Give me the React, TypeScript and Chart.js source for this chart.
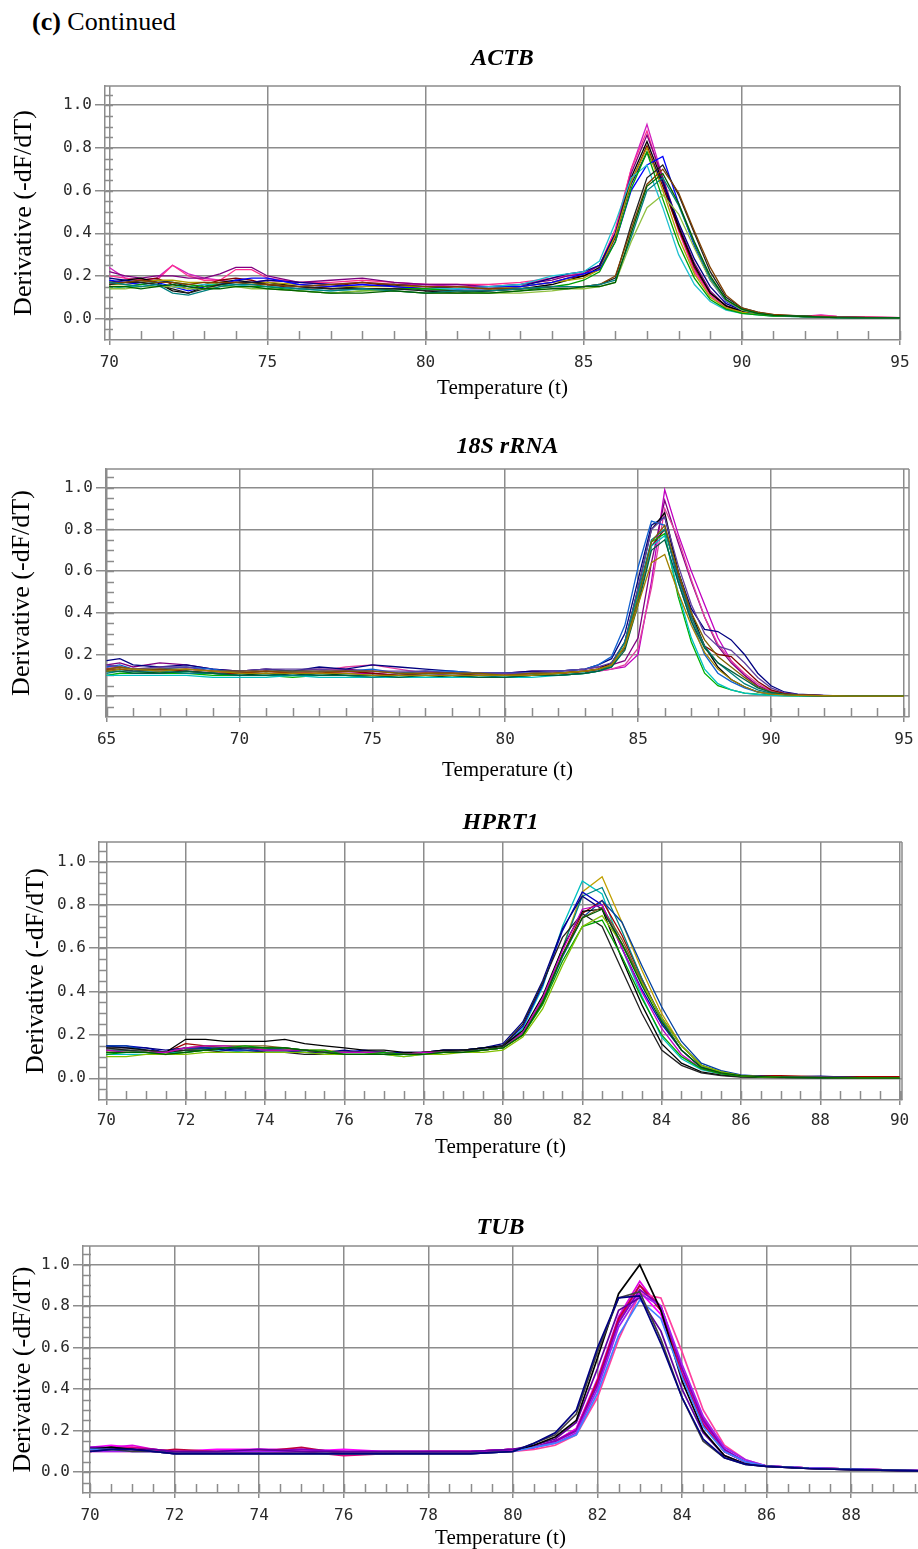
import React, { useEffect, useRef } from 'react';
import { Chart, registerables } from 'chart.js';

Chart.register(...registerables);

// ---------------- data ----------------
const Y_TICKS = [0, 0.2, 0.4, 0.6, 0.8, 1.0];
const ACTB_X_TICKS = [70, 75, 80, 85, 90, 95];
const RRNA_X_TICKS = [65, 70, 75, 80, 85, 90, 95];
const HPRT1_X_TICKS = [70, 72, 74, 76, 78, 80, 82, 84, 86, 88, 90];
const TUB_X_TICKS = [70, 72, 74, 76, 78, 80, 82, 84, 86, 88];

// ACTB
const ACTB_TEMPS = [70, 70.5, 71, 71.5, 72, 72.5, 73, 73.5, 74, 74.5, 75, 76, 77, 78, 79, 80, 81, 82, 83, 84, 84.5, 85, 85.5, 86, 86.5, 87, 87.5, 88, 88.5, 89, 89.5, 90, 90.5, 91, 92, 92.5, 93, 95];
const ACTB_S1 = [0.24,0.19,0.18,0.19,0.25,0.21,0.19,0.18,0.17,0.17,0.18,0.17,0.16,0.17,0.16,0.16,0.15,0.15,0.16,0.19,0.21,0.21,0.25,0.40,0.70,0.91,0.66,0.42,0.23,0.11,0.05,0.03,0.02,0.014,0.012,0.018,0.01,0.005];
const ACTB_S2 = [0.22,0.2,0.19,0.2,0.2,0.19,0.19,0.21,0.24,0.24,0.2,0.17,0.18,0.19,0.17,0.16,0.16,0.15,0.16,0.18,0.2,0.21,0.25,0.40,0.68,0.86,0.66,0.44,0.26,0.13,0.06,0.035,0.02,0.015,0.01,0.008,0.006,0.004];
const ACTB_S3 = [0.17,0.18,0.19,0.17,0.13,0.12,0.15,0.17,0.18,0.17,0.17,0.15,0.14,0.15,0.16,0.13,0.12,0.13,0.14,0.16,0.18,0.2,0.24,0.39,0.66,0.83,0.64,0.43,0.25,0.12,0.06,0.035,0.022,0.015,0.01,0.008,0.006,0.004];
const ACTB_S4 = [0.16,0.17,0.18,0.19,0.16,0.14,0.16,0.18,0.19,0.18,0.16,0.14,0.15,0.17,0.15,0.14,0.15,0.14,0.15,0.17,0.19,0.2,0.23,0.38,0.64,0.81,0.62,0.42,0.24,0.12,0.06,0.03,0.02,0.015,0.01,0.008,0.006,0.004];
const ACTB_S5 = [0.15,0.15,0.16,0.17,0.17,0.16,0.15,0.16,0.15,0.15,0.15,0.13,0.12,0.13,0.14,0.14,0.13,0.12,0.13,0.15,0.16,0.18,0.22,0.36,0.61,0.78,0.56,0.35,0.19,0.09,0.045,0.025,0.018,0.012,0.01,0.007,0.005,0.004];
const ACTB_S6 = [0.14,0.15,0.15,0.16,0.15,0.15,0.16,0.16,0.16,0.15,0.15,0.14,0.13,0.14,0.14,0.14,0.14,0.15,0.16,0.2,0.21,0.22,0.27,0.45,0.66,0.72,0.52,0.3,0.16,0.08,0.04,0.025,0.018,0.012,0.008,0.006,0.005,0.004];
const ACTB_S7 = [0.18,0.17,0.16,0.17,0.15,0.13,0.15,0.16,0.18,0.19,0.19,0.16,0.15,0.16,0.15,0.14,0.14,0.15,0.15,0.17,0.19,0.21,0.23,0.36,0.6,0.72,0.76,0.54,0.34,0.18,0.08,0.04,0.025,0.015,0.01,0.008,0.006,0.004];
const ACTB_S8 = [0.16,0.16,0.17,0.18,0.18,0.17,0.17,0.16,0.16,0.16,0.17,0.16,0.15,0.15,0.15,0.15,0.15,0.14,0.15,0.17,0.18,0.19,0.23,0.39,0.64,0.8,0.6,0.38,0.21,0.1,0.05,0.03,0.02,0.012,0.01,0.008,0.006,0.004];
const ACTB_S9 = [0.19,0.18,0.17,0.18,0.17,0.15,0.14,0.16,0.17,0.17,0.18,0.17,0.16,0.15,0.16,0.15,0.14,0.14,0.15,0.19,0.21,0.22,0.25,0.4,0.63,0.78,0.64,0.45,0.28,0.15,0.07,0.04,0.022,0.015,0.01,0.008,0.006,0.004];
const ACTB_S10 = [0.15,0.15,0.14,0.15,0.16,0.15,0.14,0.14,0.15,0.15,0.14,0.13,0.12,0.12,0.13,0.12,0.12,0.12,0.13,0.14,0.14,0.15,0.15,0.17,0.4,0.62,0.68,0.54,0.36,0.2,0.09,0.045,0.025,0.015,0.01,0.007,0.005,0.004];
const ACTB_S11 = [0.17,0.16,0.15,0.16,0.12,0.11,0.13,0.15,0.16,0.16,0.15,0.14,0.13,0.14,0.13,0.12,0.13,0.13,0.14,0.15,0.15,0.15,0.16,0.18,0.38,0.6,0.66,0.53,0.35,0.19,0.09,0.045,0.025,0.015,0.01,0.007,0.005,0.004];
const ACTB_S12 = [0.17,0.17,0.18,0.17,0.17,0.16,0.17,0.17,0.17,0.16,0.16,0.15,0.16,0.17,0.16,0.15,0.15,0.14,0.14,0.15,0.15,0.15,0.16,0.2,0.42,0.63,0.7,0.59,0.41,0.24,0.11,0.05,0.03,0.02,0.012,0.01,0.007,0.005];
const ACTB_S13 = [0.14,0.14,0.15,0.15,0.15,0.14,0.14,0.15,0.15,0.14,0.14,0.13,0.12,0.13,0.13,0.12,0.12,0.12,0.12,0.13,0.14,0.14,0.15,0.17,0.36,0.52,0.58,0.49,0.33,0.18,0.085,0.04,0.025,0.015,0.01,0.008,0.006,0.004];
const ACTB_S14 = [0.2,0.19,0.18,0.18,0.25,0.2,0.18,0.18,0.23,0.23,0.19,0.17,0.17,0.18,0.17,0.16,0.16,0.16,0.17,0.19,0.2,0.21,0.25,0.42,0.7,0.88,0.64,0.41,0.22,0.11,0.05,0.03,0.02,0.015,0.012,0.015,0.01,0.005];
const ACTB_S15 = [0.16,0.17,0.17,0.16,0.14,0.12,0.14,0.16,0.17,0.17,0.16,0.15,0.14,0.14,0.14,0.13,0.13,0.13,0.14,0.15,0.15,0.15,0.16,0.19,0.44,0.66,0.72,0.58,0.4,0.22,0.1,0.05,0.03,0.018,0.012,0.008,0.006,0.004];
const ACTB_SERIES = [ACTB_S10, ACTB_S11, ACTB_S12, ACTB_S13, ACTB_S15, ACTB_S5, ACTB_S6, ACTB_S7, ACTB_S8, ACTB_S9, ACTB_S3, ACTB_S4, ACTB_S2, ACTB_S14, ACTB_S1];
const ACTB_COLORS = ['#006000', '#008080', '#804000', '#90c040', '#202020', '#00a000', '#20c0d0', '#0000ff', '#b0a000', '#000080', '#000000', '#800000', '#800080', '#ff3090', '#d020c0'];

// 18S rRNA
const RRNA_TEMPS = [65, 65.5, 66, 67, 68, 69, 70, 71, 72, 73, 74, 75, 76, 77, 78, 79, 80, 81, 82, 83, 83.5, 84, 84.5, 85, 85.5, 86, 86.5, 87, 87.5, 88, 88.5, 89, 89.5, 90, 90.5, 91, 92, 93, 95];
const RRNA_S1 = [0.13,0.14,0.13,0.12,0.13,0.12,0.11,0.12,0.11,0.12,0.11,0.11,0.1,0.11,0.1,0.1,0.1,0.11,0.11,0.12,0.12,0.13,0.14,0.2,0.55,0.99,0.78,0.6,0.44,0.28,0.17,0.1,0.05,0.025,0.012,0.006,0.002,0,0];
const RRNA_S2 = [0.15,0.16,0.14,0.16,0.15,0.13,0.12,0.13,0.12,0.13,0.13,0.12,0.11,0.12,0.11,0.11,0.11,0.12,0.12,0.13,0.14,0.15,0.17,0.28,0.64,0.94,0.74,0.55,0.38,0.24,0.16,0.1,0.05,0.025,0.012,0.006,0.002,0,0];
const RRNA_S3 = [0.12,0.13,0.12,0.11,0.12,0.11,0.1,0.11,0.1,0.11,0.1,0.1,0.1,0.1,0.09,0.1,0.1,0.1,0.11,0.12,0.13,0.16,0.26,0.52,0.8,0.88,0.6,0.4,0.24,0.14,0.08,0.045,0.02,0.01,0.006,0.004,0.002,0,0];
const RRNA_S4 = [0.17,0.18,0.15,0.14,0.15,0.13,0.12,0.13,0.12,0.14,0.13,0.15,0.14,0.13,0.12,0.11,0.11,0.12,0.12,0.13,0.15,0.18,0.3,0.56,0.82,0.86,0.6,0.42,0.32,0.31,0.27,0.2,0.11,0.05,0.02,0.01,0.004,0,0];
const RRNA_S5 = [0.14,0.15,0.13,0.13,0.14,0.13,0.11,0.12,0.12,0.12,0.12,0.13,0.11,0.12,0.12,0.11,0.11,0.11,0.12,0.13,0.15,0.19,0.34,0.62,0.84,0.82,0.55,0.36,0.2,0.11,0.07,0.04,0.02,0.01,0.006,0.004,0.002,0,0];
const RRNA_S6 = [0.11,0.12,0.12,0.12,0.11,0.11,0.1,0.1,0.1,0.1,0.1,0.09,0.1,0.1,0.1,0.1,0.09,0.1,0.1,0.11,0.12,0.15,0.26,0.5,0.75,0.8,0.57,0.38,0.24,0.16,0.11,0.06,0.03,0.014,0.007,0.004,0.002,0,0];
const RRNA_S7 = [0.1,0.11,0.11,0.11,0.11,0.1,0.1,0.1,0.09,0.1,0.1,0.09,0.09,0.09,0.09,0.09,0.09,0.1,0.1,0.11,0.12,0.14,0.24,0.48,0.74,0.78,0.48,0.26,0.11,0.05,0.03,0.015,0.01,0.005,0.003,0.002,0.001,0,0];
const RRNA_S8 = [0.12,0.13,0.13,0.12,0.13,0.12,0.11,0.11,0.11,0.11,0.11,0.1,0.1,0.1,0.1,0.1,0.1,0.1,0.11,0.12,0.13,0.15,0.24,0.44,0.64,0.68,0.5,0.34,0.21,0.13,0.08,0.045,0.02,0.01,0.006,0.004,0.002,0,0];
const RRNA_S9 = [0.13,0.13,0.12,0.13,0.12,0.11,0.11,0.12,0.11,0.11,0.12,0.11,0.1,0.11,0.11,0.1,0.1,0.1,0.11,0.12,0.13,0.15,0.23,0.46,0.72,0.8,0.58,0.38,0.24,0.2,0.19,0.13,0.07,0.03,0.012,0.006,0.002,0,0];
const RRNA_S10 = [0.12,0.12,0.11,0.11,0.12,0.11,0.1,0.1,0.11,0.1,0.1,0.1,0.09,0.1,0.1,0.09,0.09,0.1,0.1,0.11,0.12,0.14,0.22,0.44,0.7,0.75,0.55,0.36,0.23,0.16,0.12,0.08,0.04,0.018,0.008,0.004,0.002,0,0];
const RRNA_S11 = [0.14,0.14,0.13,0.12,0.13,0.12,0.11,0.12,0.11,0.12,0.14,0.15,0.13,0.11,0.11,0.1,0.1,0.11,0.11,0.12,0.12,0.13,0.15,0.23,0.52,0.9,0.76,0.56,0.38,0.25,0.17,0.11,0.06,0.025,0.01,0.005,0.002,0,0];
const RRNA_S12 = [0.1,0.1,0.1,0.1,0.1,0.09,0.09,0.09,0.1,0.09,0.09,0.09,0.09,0.09,0.09,0.09,0.09,0.09,0.1,0.11,0.12,0.14,0.24,0.47,0.72,0.77,0.5,0.28,0.13,0.06,0.03,0.015,0.008,0.004,0.002,0.001,0,0,0];
const RRNA_S13 = [0.13,0.14,0.13,0.13,0.13,0.12,0.12,0.12,0.12,0.12,0.12,0.12,0.11,0.11,0.11,0.11,0.1,0.11,0.11,0.12,0.13,0.15,0.24,0.47,0.74,0.82,0.6,0.4,0.27,0.19,0.14,0.09,0.045,0.02,0.01,0.005,0.002,0,0];
const RRNA_S14 = [0.15,0.14,0.13,0.14,0.14,0.12,0.12,0.13,0.13,0.13,0.12,0.12,0.12,0.12,0.11,0.11,0.11,0.11,0.12,0.13,0.14,0.16,0.26,0.52,0.8,0.86,0.63,0.44,0.3,0.24,0.22,0.16,0.09,0.04,0.016,0.008,0.003,0,0];
const RRNA_SERIES = [RRNA_S8, RRNA_S10, RRNA_S13, RRNA_S6, RRNA_S12, RRNA_S7, RRNA_S9, RRNA_S14, RRNA_S5, RRNA_S3, RRNA_S4, RRNA_S11, RRNA_S2, RRNA_S1];
const RRNA_COLORS = ['#a08000', '#006040', '#806000', '#008080', '#00c0c0', '#00b000', '#800000', '#6040a0', '#1060d0', '#000000', '#000080', '#e040a0', '#800080', '#c000c0'];

// HPRT1
const HPRT1_TEMPS = [70, 70.5, 71, 71.5, 72, 72.5, 73, 73.5, 74, 74.5, 75, 75.5, 76, 76.5, 77, 77.5, 78, 78.5, 79, 79.5, 80, 80.5, 81, 81.5, 82, 82.5, 83, 83.5, 84, 84.5, 85, 85.5, 86, 86.5, 87, 88, 89, 90];
const HPRT1_S1 = [0.12,0.12,0.12,0.11,0.13,0.14,0.14,0.14,0.14,0.13,0.13,0.13,0.12,0.12,0.12,0.11,0.12,0.12,0.12,0.13,0.14,0.2,0.36,0.6,0.86,0.93,0.72,0.5,0.3,0.15,0.06,0.025,0.012,0.008,0.005,0.004,0.003,0.003];
const HPRT1_S2 = [0.11,0.11,0.11,0.12,0.12,0.13,0.13,0.12,0.12,0.12,0.12,0.11,0.11,0.11,0.11,0.1,0.11,0.12,0.12,0.13,0.14,0.23,0.42,0.7,0.91,0.85,0.6,0.38,0.19,0.09,0.04,0.02,0.01,0.006,0.004,0.003,0.002,0.002];
const HPRT1_S3 = [0.15,0.15,0.14,0.12,0.14,0.14,0.13,0.13,0.12,0.12,0.13,0.12,0.12,0.13,0.12,0.12,0.12,0.13,0.13,0.14,0.15,0.24,0.43,0.68,0.86,0.8,0.6,0.41,0.25,0.13,0.05,0.025,0.012,0.008,0.005,0.004,0.003,0.003];
const HPRT1_S4 = [0.14,0.14,0.13,0.12,0.18,0.18,0.17,0.17,0.17,0.18,0.16,0.15,0.14,0.13,0.13,0.12,0.12,0.13,0.13,0.14,0.15,0.22,0.38,0.6,0.77,0.78,0.55,0.34,0.16,0.07,0.03,0.015,0.008,0.005,0.004,0.003,0.002,0.002];
const HPRT1_S5 = [0.13,0.13,0.12,0.12,0.16,0.15,0.14,0.14,0.13,0.13,0.13,0.12,0.12,0.12,0.12,0.11,0.12,0.12,0.13,0.14,0.15,0.21,0.35,0.57,0.76,0.82,0.66,0.46,0.27,0.13,0.05,0.025,0.014,0.012,0.012,0.008,0.008,0.008];
const HPRT1_S6 = [0.11,0.12,0.12,0.11,0.12,0.13,0.14,0.15,0.14,0.14,0.13,0.13,0.11,0.11,0.12,0.11,0.11,0.12,0.12,0.13,0.14,0.2,0.34,0.54,0.7,0.73,0.56,0.37,0.2,0.1,0.045,0.02,0.01,0.006,0.004,0.003,0.002,0.002];
const HPRT1_S7 = [0.15,0.14,0.14,0.13,0.14,0.14,0.13,0.14,0.12,0.12,0.12,0.12,0.13,0.12,0.12,0.11,0.12,0.13,0.13,0.14,0.16,0.26,0.45,0.69,0.84,0.78,0.62,0.45,0.28,0.15,0.06,0.03,0.012,0.008,0.005,0.01,0.003,0.003];
const HPRT1_S8 = [0.13,0.13,0.12,0.12,0.13,0.13,0.14,0.14,0.14,0.13,0.12,0.12,0.12,0.12,0.11,0.11,0.12,0.12,0.13,0.13,0.14,0.21,0.36,0.6,0.84,0.88,0.68,0.46,0.27,0.13,0.05,0.025,0.012,0.008,0.005,0.004,0.003,0.003];
const HPRT1_S9 = [0.14,0.13,0.13,0.12,0.13,0.13,0.12,0.12,0.12,0.12,0.11,0.11,0.12,0.12,0.12,0.11,0.12,0.12,0.13,0.13,0.15,0.25,0.44,0.65,0.76,0.7,0.5,0.3,0.13,0.06,0.025,0.012,0.006,0.004,0.003,0.002,0.002,0.002];
const HPRT1_S10 = [0.12,0.12,0.12,0.12,0.14,0.15,0.15,0.15,0.15,0.14,0.13,0.12,0.12,0.12,0.12,0.11,0.12,0.12,0.12,0.13,0.14,0.21,0.36,0.57,0.74,0.79,0.64,0.45,0.28,0.15,0.06,0.03,0.012,0.008,0.005,0.004,0.003,0.003];
const HPRT1_S11 = [0.1,0.1,0.11,0.11,0.11,0.12,0.12,0.12,0.12,0.12,0.12,0.11,0.11,0.11,0.11,0.1,0.11,0.11,0.12,0.12,0.13,0.19,0.32,0.52,0.7,0.75,0.62,0.44,0.28,0.15,0.06,0.03,0.012,0.008,0.005,0.004,0.003,0.003];
const HPRT1_S12 = [0.13,0.12,0.12,0.12,0.14,0.15,0.15,0.14,0.13,0.13,0.13,0.12,0.12,0.12,0.12,0.11,0.12,0.12,0.12,0.13,0.14,0.21,0.37,0.59,0.78,0.8,0.6,0.4,0.23,0.11,0.045,0.022,0.012,0.008,0.005,0.004,0.003,0.003];
const HPRT1_S13 = [0.15,0.15,0.13,0.12,0.14,0.14,0.14,0.13,0.13,0.14,0.13,0.12,0.12,0.12,0.12,0.11,0.12,0.12,0.13,0.14,0.15,0.21,0.35,0.56,0.74,0.82,0.72,0.52,0.33,0.17,0.07,0.035,0.016,0.01,0.006,0.004,0.003,0.003];
const HPRT1_S14 = [0.12,0.12,0.12,0.11,0.12,0.13,0.14,0.14,0.14,0.14,0.13,0.12,0.11,0.11,0.11,0.11,0.11,0.12,0.12,0.13,0.14,0.2,0.35,0.57,0.74,0.78,0.62,0.43,0.26,0.13,0.05,0.025,0.012,0.008,0.005,0.003,0.002,0.002];
const HPRT1_SERIES = [HPRT1_S14, HPRT1_S11, HPRT1_S6, HPRT1_S12, HPRT1_S10, HPRT1_S9, HPRT1_S4, HPRT1_S13, HPRT1_S7, HPRT1_S3, HPRT1_S8, HPRT1_S5, HPRT1_S2, HPRT1_S1];
const HPRT1_COLORS = ['#006000', '#80c000', '#00a000', '#c000c0', '#806020', '#202020', '#000000', '#0040a0', '#000080', '#0000c0', '#008080', '#a00000', '#00c0c0', '#c0a000'];

// TUB
const TUB_TEMPS = [70, 70.5, 71, 71.5, 72, 73, 74, 75, 76, 77, 78, 79, 80, 80.5, 81, 81.5, 82, 82.5, 83, 83.5, 84, 84.5, 85, 85.5, 86, 87, 88, 89, 90];
const TUB_S1 = [0.11,0.12,0.11,0.1,0.09,0.09,0.09,0.09,0.09,0.09,0.09,0.09,0.1,0.13,0.17,0.25,0.55,0.86,1.0,0.78,0.44,0.2,0.08,0.04,0.028,0.018,0.013,0.009,0.005];
const TUB_S2 = [0.1,0.11,0.11,0.1,0.09,0.09,0.09,0.09,0.09,0.09,0.09,0.09,0.1,0.14,0.19,0.3,0.6,0.84,0.85,0.62,0.36,0.16,0.07,0.038,0.028,0.018,0.013,0.009,0.005];
const TUB_S3 = [0.11,0.12,0.13,0.11,0.1,0.1,0.11,0.11,0.1,0.1,0.1,0.1,0.11,0.12,0.15,0.21,0.45,0.75,0.92,0.78,0.48,0.24,0.1,0.05,0.03,0.02,0.015,0.01,0.006];
const TUB_S4 = [0.11,0.11,0.11,0.1,0.1,0.1,0.1,0.11,0.1,0.1,0.1,0.1,0.11,0.12,0.15,0.2,0.42,0.72,0.88,0.8,0.5,0.25,0.11,0.05,0.03,0.02,0.015,0.01,0.006];
const TUB_S5 = [0.1,0.11,0.12,0.11,0.1,0.1,0.1,0.1,0.08,0.09,0.1,0.1,0.11,0.12,0.15,0.2,0.43,0.73,0.9,0.8,0.5,0.26,0.11,0.05,0.03,0.02,0.015,0.01,0.006];
const TUB_S6 = [0.1,0.1,0.1,0.1,0.09,0.1,0.1,0.1,0.1,0.1,0.1,0.1,0.11,0.12,0.14,0.19,0.4,0.7,0.86,0.8,0.52,0.27,0.12,0.06,0.03,0.02,0.015,0.01,0.006];
const TUB_S7 = [0.11,0.12,0.11,0.1,0.11,0.1,0.1,0.12,0.09,0.1,0.1,0.1,0.11,0.12,0.15,0.2,0.44,0.74,0.9,0.78,0.47,0.23,0.1,0.05,0.03,0.02,0.015,0.01,0.006];
const TUB_S8 = [0.11,0.11,0.1,0.1,0.09,0.09,0.09,0.09,0.09,0.09,0.09,0.09,0.1,0.12,0.14,0.18,0.38,0.66,0.83,0.74,0.46,0.22,0.1,0.05,0.03,0.02,0.015,0.01,0.006];
const TUB_S9 = [0.12,0.13,0.12,0.11,0.1,0.11,0.11,0.1,0.11,0.1,0.1,0.1,0.11,0.12,0.15,0.21,0.44,0.74,0.87,0.76,0.47,0.24,0.1,0.05,0.03,0.02,0.015,0.01,0.006];
const TUB_S10 = [0.12,0.12,0.11,0.11,0.1,0.1,0.11,0.1,0.1,0.1,0.1,0.1,0.11,0.13,0.16,0.24,0.5,0.78,0.84,0.68,0.4,0.19,0.08,0.04,0.028,0.018,0.013,0.009,0.005];
const TUB_S11 = [0.1,0.1,0.1,0.1,0.1,0.1,0.09,0.1,0.1,0.09,0.1,0.1,0.1,0.11,0.13,0.18,0.36,0.64,0.86,0.84,0.58,0.3,0.13,0.06,0.03,0.02,0.015,0.01,0.006];
const TUB_S12 = [0.1,0.11,0.1,0.1,0.09,0.09,0.09,0.09,0.09,0.09,0.09,0.09,0.1,0.14,0.18,0.28,0.58,0.84,0.87,0.64,0.36,0.15,0.07,0.038,0.028,0.018,0.013,0.009,0.005];
const TUB_SERIES = [TUB_S2, TUB_S12, TUB_S8, TUB_S1, TUB_S10, TUB_S6, TUB_S4, TUB_S11, TUB_S7, TUB_S5, TUB_S3, TUB_S9];
const TUB_COLORS = ['#000080', '#404040', '#4080ff', '#000000', '#6000a0', '#a020f0', '#8000c0', '#ff40a0', '#c00040', '#e00080', '#e000e0', '#ff00ff'];

// ---------------- styling / layout ----------------
const W = 918;
const GRID = '#8c8c8c';
const TICK_COLOR = '#2a2a2a';
const SERIF = '"Liberation Serif", "Times New Roman", serif';
const MONO = '"DejaVu Sans Mono", monospace';

const PANELS = [
  { title: 'ACTB', temps: ACTB_TEMPS, series: ACTB_SERIES, colors: ACTB_COLORS, xTicks: ACTB_X_TICKS, lineW: 1.3,
    xMin: 69.864, xMax: 95, xMinor: 1, canvasTop: 0, height: 410, left: 105, right: 900, top: 86, bottom: 340,
    titleY: 58.5, yTitleX: 24, xTitleY: 388, xTickPad: 8, rightBorder: true },
  { title: '18S rRNA', temps: RRNA_TEMPS, series: RRNA_SERIES, colors: RRNA_COLORS, xTicks: RRNA_X_TICKS, lineW: 1.3,
    xMin: 64.98, xMax: 95.19, xMinor: 1, canvasTop: 410, height: 380, left: 106, right: 909, top: 59, bottom: 307,
    titleY: 37, yTitleX: 22, xTitleY: 360, xTickPad: 8, rightBorder: true },
  { title: 'HPRT1', temps: HPRT1_TEMPS, series: HPRT1_SERIES, colors: HPRT1_COLORS, xTicks: HPRT1_X_TICKS, lineW: 1.3,
    xMin: 69.816, xMax: 90.06, xMinor: 0.5, canvasTop: 790, height: 375, left: 99, right: 902, top: 52, bottom: 310,
    titleY: 33, yTitleX: 36, xTitleY: 357, xTickPad: 6, rightBorder: true },
  { title: 'TUB', temps: TUB_TEMPS, series: TUB_SERIES, colors: TUB_COLORS, xTicks: TUB_X_TICKS, lineW: 1.7,
    xMin: 69.834, xMax: 89.58, xMinor: 0.5, canvasTop: 1165, height: 384, left: 83, right: 918, top: 81, bottom: 328,
    titleY: 63, yTitleX: 23, xTitleY: 373, xTickPad: 8, rightBorder: false },
];

const framePlugin = {
  id: 'frame',
  beforeDatasetsDraw(chart: any, _args: any, opts: any) {
    const { ctx, chartArea: a } = chart;
    const xs = chart.scales.x;
    const ys = chart.scales.y;
    ctx.save();
    ctx.strokeStyle = GRID;
    ctx.lineWidth = 1.5;
    ctx.beginPath();
    ctx.moveTo(a.left, a.top);
    ctx.lineTo(a.right, a.top);
    if (opts.rightBorder) {
      ctx.moveTo(a.right, a.top);
      ctx.lineTo(a.right, a.bottom);
    }
    for (let k = -2; k <= 22; k++) {
      const v = k * 0.05;
      if (v <= ys.min || v >= ys.max) continue;
      const py = Math.round(ys.getPixelForValue(v)) + 0.5;
      ctx.moveTo(a.left, py);
      ctx.lineTo(a.left + 8, py);
    }
    const step = opts.xMinor;
    const start = Math.ceil(xs.min / step);
    const end = Math.floor(xs.max / step);
    for (let k = start; k <= end; k++) {
      const px = Math.round(xs.getPixelForValue(k * step)) + 0.5;
      ctx.moveTo(px, a.bottom);
      ctx.lineTo(px, a.bottom - 9);
    }
    ctx.stroke();
    ctx.restore();
  },
};

function makeConfig(p: any): any {
  const titleLH = 24 * 1.2;
  const titlePadTop = p.titleY - titleLH / 2;
  const titlePadBottom = p.top - titleLH - titlePadTop;
  return {
    type: 'line',
    data: {
      datasets: p.series.map((vals: number[], i: number) => ({
        data: p.temps.map((t: number, j: number) => ({ x: t, y: vals[j] })),
        borderColor: p.colors[i],
        backgroundColor: p.colors[i],
        borderWidth: p.lineW,
        pointRadius: 0,
        fill: false,
        tension: 0,
      })),
    },
    options: {
      responsive: false,
      animation: false,
      events: [],
      devicePixelRatio: 1,
      layout: { padding: { left: 0, top: 0, bottom: 0, right: W - p.right } },
      plugins: {
        legend: { display: false },
        tooltip: { enabled: false },
        title: {
          display: true,
          text: p.title,
          fullSize: false,
          color: '#000',
          font: { family: SERIF, size: 24, weight: 'bold', style: 'italic', lineHeight: 1.2 },
          padding: { top: titlePadTop, bottom: titlePadBottom },
        },
        frame: { xMinor: p.xMinor, rightBorder: p.rightBorder },
      },
      scales: {
        x: {
          type: 'linear',
          bounds: 'data',
          min: p.xMin,
          max: p.xMax,
          afterBuildTicks: (s: any) => { s.ticks = p.xTicks.map((v: number) => ({ value: v })); },
          afterFit: (s: any) => { s.height = p.height - p.bottom; s.paddingLeft = 0; s.paddingRight = 0; },
          ticks: {
            autoSkip: false, maxRotation: 0, minRotation: 0, padding: p.xTickPad, color: TICK_COLOR,
            font: { family: MONO, size: 16, lineHeight: 1.2 },
            callback: (v: any) => String(v),
          },
          grid: { color: GRID, lineWidth: 1.5, tickLength: 5, drawTicks: true },
          border: { display: true, color: GRID, width: 1.5 },
          title: {
            display: true, text: 'Temperature (t)', color: '#000',
            font: { family: SERIF, size: 21, lineHeight: 1 },
            padding: { top: 0, bottom: p.height - 10.5 - p.xTitleY },
          },
        },
        y: {
          type: 'linear',
          bounds: 'data',
          min: -0.1,
          max: 1.09,
          afterBuildTicks: (s: any) => { s.ticks = Y_TICKS.map((v) => ({ value: v })); },
          afterFit: (s: any) => { s.width = p.left; s.paddingTop = 0; s.paddingBottom = 0; },
          ticks: {
            padding: 3, color: TICK_COLOR,
            font: { family: MONO, size: 16, lineHeight: 1.2 },
            callback: (v: any) => Number(v).toFixed(1),
          },
          grid: { color: GRID, lineWidth: 1.5, tickLength: 10, drawTicks: true },
          border: { display: true, color: GRID, width: 1.5 },
          title: {
            display: true, text: 'Derivative (-dF/dT)', color: '#000',
            font: { family: SERIF, size: 26, lineHeight: 1.2 },
            padding: { top: p.yTitleX - 15.6, bottom: 0 },
          },
        },
      },
    },
    plugins: [framePlugin],
  };
}

function Panel({ def }: { def: any }) {
  const ref = useRef<HTMLCanvasElement | null>(null);
  useEffect(() => {
    if (!ref.current) return;
    const chart = new Chart(ref.current, makeConfig(def));
    return () => chart.destroy();
  }, [def]);
  return (
    <canvas
      ref={ref}
      width={W}
      height={def.height}
      style={{ position: 'absolute', left: 0, top: def.canvasTop, width: W, height: def.height, display: 'block' }}
    />
  );
}

export default function App() {
  return (
    <div style={{ position: 'absolute', left: 0, top: 0, width: W, height: 1549, background: '#fff', overflow: 'hidden' }}>
      <div
        style={{
          position: 'absolute', left: 32, top: 9, fontFamily: SERIF, fontSize: 26, lineHeight: '26px',
          whiteSpace: 'nowrap', color: '#000',
        }}
      >
        <b>(c)</b> Continued
      </div>
      {PANELS.map((p) => (
        <Panel key={p.title} def={p} />
      ))}
    </div>
  );
}
